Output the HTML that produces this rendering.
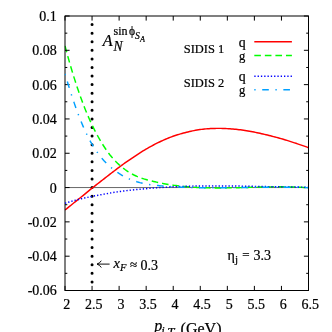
<!DOCTYPE html>
<html><head><meta charset="utf-8"><title>plot</title>
<style>html,body{margin:0;padding:0;background:#fff;}body{width:332px;height:332px;overflow:hidden;}svg{display:block;will-change:transform;}text{font-family:"Liberation Serif",serif;fill:#000;stroke:#000;stroke-width:0.22px;}</style>
</head><body>
<svg width="332" height="332" viewBox="0 0 332 332">
<rect x="0" y="0" width="332" height="332" fill="#ffffff"/>
<line x1="65.0" y1="187.56" x2="308.5" y2="187.56" stroke="#000" stroke-width="0.6"/>
<line x1="92.06" y1="24.578" x2="92.06" y2="281.972" stroke="#000" stroke-width="3.0" stroke-linecap="round" stroke-dasharray="0 8.5781"/>
<clipPath id="pc"><rect x="64.6" y="16" width="243.4" height="274.5"/></clipPath>
<g fill="none" stroke-linejoin="round" clip-path="url(#pc)">
<path d="M65.0,210.02 L66.5,208.82 L68.0,207.61 L69.5,206.40 L71.0,205.20 L72.5,203.99 L74.0,202.78 L75.5,201.58 L77.0,200.37 L78.5,199.17 L80.0,197.97 L81.5,196.77 L83.0,195.57 L84.5,194.36 L86.0,193.11 L87.5,191.87 L89.0,190.63 L90.5,189.39 L92.0,188.16 L93.5,186.98 L95.0,185.81 L96.5,184.63 L98.0,183.47 L99.5,182.31 L101.0,181.14 L102.5,179.98 L104.0,178.82 L105.5,177.66 L107.0,176.52 L108.5,175.36 L110.0,174.19 L111.5,173.03 L113.0,171.87 L114.5,170.72 L116.0,169.58 L117.5,168.45 L119.0,167.33 L120.5,166.22 L122.0,165.12 L123.5,164.03 L125.0,162.96 L126.5,161.90 L128.0,160.86 L129.5,159.83 L131.0,158.81 L132.5,157.79 L134.0,156.77 L135.5,155.77 L137.0,154.77 L138.5,153.80 L140.0,152.83 L141.5,151.88 L143.0,150.94 L144.5,150.02 L146.0,149.13 L147.5,148.27 L149.0,147.43 L150.5,146.60 L152.0,145.78 L153.5,144.99 L155.0,144.21 L156.5,143.44 L158.0,142.69 L159.5,141.97 L161.0,141.26 L162.5,140.56 L164.0,139.89 L165.5,139.24 L167.0,138.61 L168.5,138.01 L170.0,137.42 L171.5,136.85 L173.0,136.31 L174.5,135.78 L176.0,135.28 L177.5,134.80 L179.0,134.34 L180.5,133.90 L182.0,133.48 L183.5,133.08 L185.0,132.71 L186.5,132.31 L188.0,131.93 L189.5,131.56 L191.0,131.22 L192.5,130.90 L194.0,130.60 L195.5,130.32 L197.0,130.06 L198.5,129.81 L200.0,129.59 L201.5,129.38 L203.0,129.19 L204.5,129.02 L206.0,128.88 L207.5,128.76 L209.0,128.65 L210.5,128.56 L212.0,128.49 L213.5,128.44 L215.0,128.40 L216.5,128.37 L218.0,128.37 L219.5,128.37 L221.0,128.39 L222.5,128.43 L224.0,128.48 L225.5,128.54 L227.0,128.62 L228.5,128.70 L230.0,128.80 L231.5,128.92 L233.0,129.04 L234.5,129.18 L236.0,129.33 L237.5,129.49 L239.0,129.67 L240.5,129.85 L242.0,130.05 L243.5,130.25 L245.0,130.47 L246.5,130.71 L248.0,130.97 L249.5,131.23 L251.0,131.50 L252.5,131.78 L254.0,132.08 L255.5,132.38 L257.0,132.69 L258.5,133.01 L260.0,133.34 L261.5,133.67 L263.0,134.02 L264.5,134.37 L266.0,134.73 L267.5,135.08 L269.0,135.45 L270.5,135.82 L272.0,136.20 L273.5,136.59 L275.0,136.99 L276.5,137.39 L278.0,137.80 L279.5,138.21 L281.0,138.63 L282.5,139.06 L284.0,139.49 L285.5,139.94 L287.0,140.41 L288.5,140.88 L290.0,141.36 L291.5,141.85 L293.0,142.33 L294.5,142.83 L296.0,143.32 L297.5,143.83 L299.0,144.33 L300.5,144.84 L302.0,145.36 L303.5,145.87 L305.0,146.39 L306.5,146.92 L308.0,147.44 L308.5,147.62" stroke="#ff0000" stroke-width="1.47"/>
<path d="M65.0,45.93 L66.5,51.55 L68.0,57.02 L69.5,62.34 L71.0,67.50 L72.5,72.51 L74.0,77.37 L75.5,82.09 L77.0,86.66 L78.5,91.09 L80.0,95.38 L81.5,99.53 L83.0,103.54 L84.5,107.41 L86.0,111.15 L87.5,114.76 L89.0,118.24 L90.5,121.59 L92.0,124.82 L93.5,127.92 L95.0,130.89 L96.5,133.75 L98.0,136.49 L99.5,139.12 L101.0,141.68 L102.5,144.15 L104.0,146.51 L105.5,148.77 L107.0,150.93 L108.5,153.00 L110.0,154.97 L111.5,156.79 L113.0,158.52 L114.5,160.16 L116.0,161.72 L117.5,163.21 L119.0,164.61 L120.5,165.94 L122.0,167.20 L123.5,168.39 L125.0,169.51 L126.5,170.57 L128.0,171.57 L129.5,172.51 L131.0,173.39 L132.5,174.23 L134.0,175.01 L135.5,175.74 L137.0,176.43 L138.5,177.08 L140.0,177.69 L141.5,178.20 L143.0,178.67 L144.5,179.12 L146.0,179.54 L147.5,179.93 L149.0,180.29 L150.5,180.66 L152.0,181.05 L153.5,181.42 L155.0,181.78 L156.5,182.12 L158.0,182.46 L159.5,182.78 L161.0,183.09 L162.5,183.39 L164.0,183.67 L165.5,183.95 L167.0,184.21 L168.5,184.47 L170.0,184.71 L171.5,184.94 L173.0,185.16 L174.5,185.37 L176.0,185.57 L177.5,185.76 L179.0,185.94 L180.5,186.12 L182.0,186.28 L183.5,186.43 L185.0,186.58 L186.5,186.71 L188.0,186.84 L189.5,186.96 L191.0,187.07 L192.5,187.18 L194.0,187.27 L195.5,187.36 L197.0,187.45 L198.5,187.52 L200.0,187.59 L201.5,187.65 L203.0,187.71 L204.5,187.76 L206.0,187.80 L207.5,187.84 L209.0,187.87 L210.5,187.90 L212.0,187.92 L213.5,187.93 L215.0,187.95 L216.5,187.95 L218.0,187.96 L219.5,187.95 L221.0,187.95 L222.5,187.94 L224.0,187.93 L225.5,187.91 L227.0,187.89 L228.5,187.87 L230.0,187.85 L231.5,187.82 L233.0,187.79 L234.5,187.76 L236.0,187.72 L237.5,187.69 L239.0,187.65 L240.5,187.61 L242.0,187.58 L243.5,187.53 L245.0,187.49 L246.5,187.45 L248.0,187.41 L249.5,187.37 L251.0,187.33 L252.5,187.29 L254.0,187.24 L255.5,187.20 L257.0,187.16 L258.5,187.13 L260.0,187.09 L261.5,187.05 L263.0,187.02 L264.5,186.99 L266.0,186.96 L267.5,186.93 L269.0,186.91 L270.5,186.88 L272.0,186.86 L273.5,186.85 L275.0,186.83 L276.5,186.82 L278.0,186.82 L279.5,186.82 L281.0,186.82 L282.5,186.83 L284.0,186.84 L285.5,186.85 L287.0,186.87 L288.5,186.90 L290.0,186.93 L291.5,186.97 L293.0,187.01 L294.5,187.06 L296.0,187.11 L297.5,187.17 L299.0,187.24 L300.5,187.31 L302.0,187.39 L303.5,187.48 L305.0,187.58 L306.5,187.68 L308.0,187.79 L308.5,187.83" stroke="#00ff00" stroke-width="1.47" stroke-dasharray="6.60 3.96"/>
</g>
<rect x="65.0" y="16.0" width="243.5" height="274.5" fill="none" stroke="#000" stroke-width="1"/>
<path d="M65.00,290.5v-4.6M65.00,16.0v4.6M92.06,290.5v-4.6M92.06,16.0v4.6M119.11,290.5v-4.6M119.11,16.0v4.6M146.17,290.5v-4.6M146.17,16.0v4.6M173.22,290.5v-4.6M173.22,16.0v4.6M200.28,290.5v-4.6M200.28,16.0v4.6M227.33,290.5v-4.6M227.33,16.0v4.6M254.39,290.5v-4.6M254.39,16.0v4.6M281.44,290.5v-4.6M281.44,16.0v4.6M308.50,290.5v-4.6M308.50,16.0v4.6M65.0,290.50h4.6M308.5,290.50h-4.6M65.0,273.34h2.3M308.5,273.34h-2.3M65.0,256.19h4.6M308.5,256.19h-4.6M65.0,239.03h2.3M308.5,239.03h-2.3M65.0,221.87h4.6M308.5,221.87h-4.6M65.0,204.72h2.3M308.5,204.72h-2.3M65.0,187.56h4.6M308.5,187.56h-4.6M65.0,170.41h2.3M308.5,170.41h-2.3M65.0,153.25h4.6M308.5,153.25h-4.6M65.0,136.09h2.3M308.5,136.09h-2.3M65.0,118.94h4.6M308.5,118.94h-4.6M65.0,101.78h2.3M308.5,101.78h-2.3M65.0,84.63h4.6M308.5,84.63h-4.6M65.0,67.47h2.3M308.5,67.47h-2.3M65.0,50.31h4.6M308.5,50.31h-4.6M65.0,33.16h2.3M308.5,33.16h-2.3M65.0,16.00h4.6M308.5,16.00h-4.6" stroke="#000" stroke-width="1" fill="none"/>
<g fill="none" stroke-linejoin="round" clip-path="url(#pc)">
<path d="M65.0,203.28 L66.5,202.82 L68.0,202.37 L69.5,201.93 L71.0,201.49 L72.5,201.07 L74.0,200.66 L75.5,200.26 L77.0,199.87 L78.5,199.48 L80.0,199.11 L81.5,198.74 L83.0,198.39 L84.5,198.04 L86.0,197.70 L87.5,197.37 L89.0,197.05 L90.5,196.73 L92.0,196.42 L93.5,196.12 L95.0,195.83 L96.5,195.54 L98.0,195.26 L99.5,194.99 L101.0,194.71 L102.5,194.42 L104.0,194.14 L105.5,193.87 L107.0,193.60 L108.5,193.34 L110.0,193.08 L111.5,192.83 L113.0,192.58 L114.5,192.34 L116.0,192.10 L117.5,191.86 L119.0,191.63 L120.5,191.41 L122.0,191.20 L123.5,191.01 L125.0,190.83 L126.5,190.64 L128.0,190.47 L129.5,190.29 L131.0,190.12 L132.5,189.96 L134.0,189.80 L135.5,189.64 L137.0,189.49 L138.5,189.34 L140.0,189.19 L141.5,189.05 L143.0,188.91 L144.5,188.78 L146.0,188.65 L147.5,188.53 L149.0,188.41 L150.5,188.29 L152.0,188.17 L153.5,188.06 L155.0,187.96 L156.5,187.85 L158.0,187.74 L159.5,187.63 L161.0,187.53 L162.5,187.43 L164.0,187.34 L165.5,187.25 L167.0,187.16 L168.5,187.07 L170.0,186.99 L171.5,186.91 L173.0,186.84 L174.5,186.77 L176.0,186.70 L177.5,186.63 L179.0,186.57 L180.5,186.51 L182.0,186.45 L183.5,186.40 L185.0,186.35 L186.5,186.30 L188.0,186.25 L189.5,186.21 L191.0,186.17 L192.5,186.13 L194.0,186.09 L195.5,186.06 L197.0,186.03 L198.5,186.00 L200.0,185.97 L201.5,185.96 L203.0,185.94 L204.5,185.93 L206.0,185.92 L207.5,185.91 L209.0,185.90 L210.5,185.90 L212.0,185.89 L213.5,185.89 L215.0,185.89 L216.5,185.90 L218.0,185.90 L219.5,185.91 L221.0,185.91 L222.5,185.92 L224.0,185.93 L225.5,185.94 L227.0,185.96 L228.5,185.97 L230.0,185.98 L231.5,186.00 L233.0,186.02 L234.5,186.04 L236.0,186.06 L237.5,186.08 L239.0,186.10 L240.5,186.12 L242.0,186.14 L243.5,186.17 L245.0,186.19 L246.5,186.22 L248.0,186.25 L249.5,186.27 L251.0,186.30 L252.5,186.33 L254.0,186.36 L255.5,186.38 L257.0,186.41 L258.5,186.44 L260.0,186.47 L261.5,186.50 L263.0,186.53 L264.5,186.55 L266.0,186.58 L267.5,186.61 L269.0,186.64 L270.5,186.66 L272.0,186.69 L273.5,186.72 L275.0,186.75 L276.5,186.77 L278.0,186.80 L279.5,186.82 L281.0,186.85 L282.5,186.87 L284.0,186.90 L285.5,186.92 L287.0,186.94 L288.5,186.97 L290.0,186.99 L291.5,187.01 L293.0,187.03 L294.5,187.05 L296.0,187.06 L297.5,187.08 L299.0,187.10 L300.5,187.11 L302.0,187.12 L303.5,187.14 L305.0,187.15 L306.5,187.16 L308.0,187.16 L308.5,187.17" stroke="#0000ff" stroke-width="1.47" stroke-dasharray="1.32 1.98"/>
<path d="M65.0,74.00 L66.5,78.96 L68.0,83.84 L69.5,88.64 L71.0,93.34 L72.5,97.93 L74.0,102.39 L75.5,106.72 L77.0,110.91 L78.5,114.95 L80.0,118.84 L81.5,122.57 L83.0,126.14 L84.5,129.54 L86.0,132.78 L87.5,135.85 L89.0,138.76 L90.5,141.53 L92.0,144.15 L93.5,146.64 L95.0,148.99 L96.5,151.22 L98.0,153.33 L99.5,155.32 L101.0,157.21 L102.5,158.99 L104.0,160.68 L105.5,162.27 L107.0,163.78 L108.5,165.22 L110.0,166.58 L111.5,167.87 L113.0,169.11 L114.5,170.28 L116.0,171.39 L117.5,172.45 L119.0,173.45 L120.5,174.40 L122.0,175.29 L123.5,176.14 L125.0,176.94 L126.5,177.69 L128.0,178.40 L129.5,179.06 L131.0,179.68 L132.5,180.26 L134.0,180.80 L135.5,181.31 L137.0,181.78 L138.5,182.21 L140.0,182.62 L141.5,182.99 L143.0,183.34 L144.5,183.66 L146.0,183.95 L147.5,184.22 L149.0,184.47 L150.5,184.70 L152.0,184.91 L153.5,185.10 L155.0,185.28 L156.5,185.44 L158.0,185.59 L159.5,185.74 L161.0,185.87 L162.5,186.00 L164.0,186.12 L165.5,186.23 L167.0,186.34 L168.5,186.45 L170.0,186.55 L171.5,186.65 L173.0,186.74 L174.5,186.82 L176.0,186.91 L177.5,186.98 L179.0,187.06 L180.5,187.13 L182.0,187.19 L183.5,187.25 L185.0,187.31 L186.5,187.36 L188.0,187.41 L189.5,187.46 L191.0,187.50 L192.5,187.54 L194.0,187.57 L195.5,187.61 L197.0,187.63 L198.5,187.66 L200.0,187.68 L201.5,187.70 L203.0,187.72 L204.5,187.73 L206.0,187.75 L207.5,187.76 L209.0,187.76 L210.5,187.77 L212.0,187.77 L213.5,187.77 L215.0,187.77 L216.5,187.77 L218.0,187.76 L219.5,187.75 L221.0,187.74 L222.5,187.73 L224.0,187.72 L225.5,187.71 L227.0,187.69 L228.5,187.68 L230.0,187.66 L231.5,187.64 L233.0,187.63 L234.5,187.61 L236.0,187.59 L237.5,187.57 L239.0,187.54 L240.5,187.52 L242.0,187.50 L243.5,187.48 L245.0,187.46 L246.5,187.43 L248.0,187.41 L249.5,187.39 L251.0,187.37 L252.5,187.35 L254.0,187.32 L255.5,187.30 L257.0,187.28 L258.5,187.27 L260.0,187.25 L261.5,187.23 L263.0,187.21 L264.5,187.20 L266.0,187.18 L267.5,187.17 L269.0,187.16 L270.5,187.15 L272.0,187.14 L273.5,187.14 L275.0,187.13 L276.5,187.13 L278.0,187.13 L279.5,187.13 L281.0,187.13 L282.5,187.14 L284.0,187.15 L285.5,187.16 L287.0,187.17 L288.5,187.18 L290.0,187.20 L291.5,187.22 L293.0,187.25 L294.5,187.27 L296.0,187.30 L297.5,187.34 L299.0,187.37 L300.5,187.42 L302.0,187.46 L303.5,187.51 L305.0,187.56 L306.5,187.61 L308.0,187.67 L308.5,187.69" stroke="#00a0ff" stroke-width="1.47" stroke-dasharray="1.32 6.60 6.60 6.60"/>
</g>
<g font-size="14">
<text x="66.80" y="309.4" text-anchor="middle">2</text>
<text x="93.86" y="309.4" text-anchor="middle">2.5</text>
<text x="120.91" y="309.4" text-anchor="middle">3</text>
<text x="147.97" y="309.4" text-anchor="middle">3.5</text>
<text x="175.02" y="309.4" text-anchor="middle">4</text>
<text x="202.08" y="309.4" text-anchor="middle">4.5</text>
<text x="229.13" y="309.4" text-anchor="middle">5</text>
<text x="256.19" y="309.4" text-anchor="middle">5.5</text>
<text x="283.24" y="309.4" text-anchor="middle">6</text>
<text x="310.30" y="309.4" text-anchor="middle">6.5</text>
<text x="56.8" y="295.45" text-anchor="end">-0.06</text>
<text x="56.8" y="261.14" text-anchor="end">-0.04</text>
<text x="56.8" y="226.82" text-anchor="end">-0.02</text>
<text x="56.8" y="192.51" text-anchor="end">0</text>
<text x="56.8" y="158.20" text-anchor="end">0.02</text>
<text x="56.8" y="123.89" text-anchor="end">0.04</text>
<text x="56.8" y="89.58" text-anchor="end">0.06</text>
<text x="56.8" y="55.26" text-anchor="end">0.08</text>
<text x="56.8" y="20.95" text-anchor="end">0.1</text>
</g>
<g font-size="12.6">
<text x="183.8" y="52.9" font-size="13.3" textLength="40.5" lengthAdjust="spacingAndGlyphs" stroke-width="0.3">SIDIS 1</text>
<text x="183.8" y="87.4" font-size="13.3" textLength="40.5" lengthAdjust="spacingAndGlyphs" stroke-width="0.3">SIDIS 2</text>
<text x="238.8" y="46.5" font-size="13.8">q</text>
<text x="239" y="59.8">g</text>
<text x="238.8" y="81.1" font-size="13.8">q</text>
<text x="239" y="94.2">g</text>
</g>
<g fill="none">
<path d="M254.3,41.85H291.9" stroke="#ff0000" stroke-width="1.47"/>
<path d="M254.3,55.55H291.9" stroke="#00ff00" stroke-width="1.47" stroke-dasharray="6.60 3.96"/>
<path d="M254.3,76.2H291.9" stroke="#0000ff" stroke-width="1.47" stroke-dasharray="1.32 1.98"/>
<path d="M254.3,89.75H291.9" stroke="#00a0ff" stroke-width="1.47" stroke-dasharray="1.32 6.60 6.60 6.60"/>
</g>
<text x="102.7" y="45.8" font-size="16" font-style="italic">A</text>
<text x="113.4" y="50.7" font-size="13.6" font-style="italic">N</text>
<text x="113.6" y="35.3" font-size="12">sin<tspan dx="1.3" font-size="11.5">ϕ</tspan></text>
<text x="134.9" y="38.7" font-size="9.6" font-style="italic">S</text>
<text x="140.0" y="41.7" font-size="8.2" font-style="italic">A</text>
<path d="M97.2,264.1H109.6M101.3,260.7Q99.8,263.2 97,264.1Q99.8,265 101.3,267.5" stroke="#000" stroke-width="0.95" fill="none" stroke-linejoin="miter"/>
<text x="113.5" y="268.2" font-size="14.5" font-style="italic">x</text>
<text x="119.9" y="271.2" font-size="10.5" font-style="italic">F</text>
<text x="130" y="269.4" font-size="13">≈</text>
<text x="140.6" y="269.6" font-size="14">0.3</text>
<text x="227.5" y="259.5" font-size="14">η</text>
<text x="235.1" y="263.2" font-size="11">j</text>
<text x="242.2" y="259.3" font-size="13">=</text>
<text x="253.6" y="259.6" font-size="14">3.3</text>
<text x="154.2" y="330.5" font-size="16" font-style="italic">p</text>
<text x="161.3" y="335.1" font-size="12" font-style="italic">j</text>
<text x="167.2" y="336.1" font-size="13" font-style="italic">T</text>
<text x="180.6" y="334" font-size="16">(GeV)</text>
</svg>
</body></html>
